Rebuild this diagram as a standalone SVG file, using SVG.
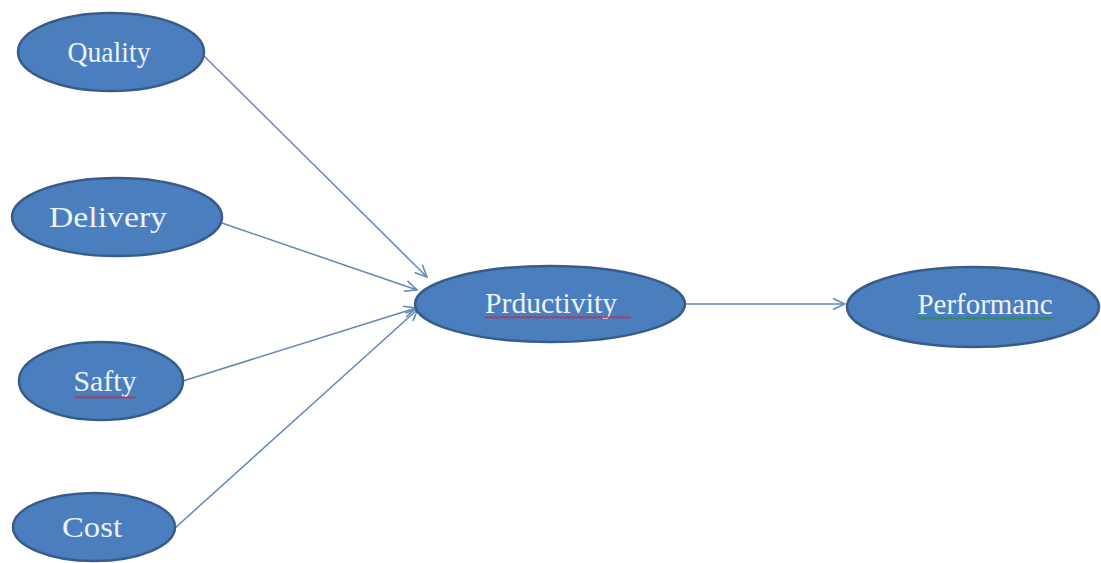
<svg xmlns="http://www.w3.org/2000/svg" width="1101" height="563" viewBox="0 0 1101 563">
<style>
.node ellipse { fill: #4a7ebe; stroke: #385c8a; stroke-width: 2.5; }
.node text { font-family: "Liberation Serif", "Times New Roman", serif; font-size: 29px; fill: #eef3fa; text-anchor: middle; }
.conn line { stroke: #5f87b9; stroke-width: 1.5; fill: none; marker-end: url(#arr); }
.sq { fill: none; stroke-width: 1.3; }
</style>
<defs>
<marker id="arr" viewBox="0 0 14 14" refX="13" refY="7" markerWidth="14" markerHeight="14" markerUnits="userSpaceOnUse" orient="auto">
<path d="M1,1.5 L13,7 L1,12.5" fill="none" stroke="#5f87b9" stroke-width="1.5"/>
</marker>
</defs>
<rect width="1101" height="563" fill="#ffffff"/>
<g id="connectors" class="conn">
<line x1="204" y1="56" x2="427" y2="277"/>
<line x1="222" y1="223" x2="417" y2="290"/>
<line x1="183" y1="381" x2="416" y2="308"/>
<line x1="175" y1="528" x2="418" y2="309"/>
<line x1="685" y1="304" x2="845" y2="304"/>
</g>
<g id="quality" class="node">
<ellipse cx="111" cy="52" rx="93" ry="39"/>
<text x="109" y="62" textLength="83" lengthAdjust="spacingAndGlyphs">Quality</text>
</g>
<g id="delivery" class="node">
<ellipse cx="117" cy="217" rx="105" ry="39"/>
<text x="108" y="227" textLength="118" lengthAdjust="spacingAndGlyphs">Delivery</text>
</g>
<g id="safty" class="node">
<ellipse cx="101" cy="381" rx="82" ry="39"/>
<text x="105" y="391" textLength="63" lengthAdjust="spacingAndGlyphs">Safty</text>
<path class="sq" stroke="#c0304a" d="M74,398 l2,-1.5 l2,1.5 l2,-1.5 l2,1.5 l2,-1.5 l2,1.5 l2,-1.5 l2,1.5 l2,-1.5 l2,1.5 l2,-1.5 l2,1.5 l2,-1.5 l2,1.5 l2,-1.5 l2,1.5 l2,-1.5 l2,1.5 l2,-1.5 l2,1.5 l2,-1.5 l2,1.5 l2,-1.5 l2,1.5 l2,-1.5 l2,1.5 l2,-1.5 l2,1.5 l2,-1.5 l2,1.5 l2,-1.5"/>
</g>
<g id="cost" class="node">
<ellipse cx="94" cy="527" rx="81" ry="34"/>
<text x="92" y="537" textLength="60" lengthAdjust="spacingAndGlyphs">Cost</text>
</g>
<g id="productivity" class="node">
<ellipse cx="550" cy="304" rx="135" ry="38"/>
<text x="551" y="313" textLength="132" lengthAdjust="spacingAndGlyphs">Prductivity</text>
<path class="sq" stroke="#c0304a" d="M485,318 l2,-1.5 l2,1.5 l2,-1.5 l2,1.5 l2,-1.5 l2,1.5 l2,-1.5 l2,1.5 l2,-1.5 l2,1.5 l2,-1.5 l2,1.5 l2,-1.5 l2,1.5 l2,-1.5 l2,1.5 l2,-1.5 l2,1.5 l2,-1.5 l2,1.5 l2,-1.5 l2,1.5 l2,-1.5 l2,1.5 l2,-1.5 l2,1.5 l2,-1.5 l2,1.5 l2,-1.5 l2,1.5 l2,-1.5 l2,1.5 l2,-1.5 l2,1.5 l2,-1.5 l2,1.5 l2,-1.5 l2,1.5 l2,-1.5 l2,1.5 l2,-1.5 l2,1.5 l2,-1.5 l2,1.5 l2,-1.5 l2,1.5 l2,-1.5 l2,1.5 l2,-1.5 l2,1.5 l2,-1.5 l2,1.5 l2,-1.5 l2,1.5 l2,-1.5 l2,1.5 l2,-1.5 l2,1.5 l2,-1.5 l2,1.5 l2,-1.5 l2,1.5 l2,-1.5 l2,1.5 l2,-1.5 l2,1.5 l2,-1.5 l2,1.5 l2,-1.5 l2,1.5 l2,-1.5 l2,1.5 l2,-1.5"/>
</g>
<g id="performance" class="node">
<ellipse cx="973" cy="307" rx="126" ry="40"/>
<text x="985" y="314" textLength="135" lengthAdjust="spacingAndGlyphs">Performanc</text>
<path class="sq" stroke="#2e8a4a" d="M917,319 l2,-1.5 l2,1.5 l2,-1.5 l2,1.5 l2,-1.5 l2,1.5 l2,-1.5 l2,1.5 l2,-1.5 l2,1.5 l2,-1.5 l2,1.5 l2,-1.5 l2,1.5 l2,-1.5 l2,1.5 l2,-1.5 l2,1.5 l2,-1.5 l2,1.5 l2,-1.5 l2,1.5 l2,-1.5 l2,1.5 l2,-1.5 l2,1.5 l2,-1.5 l2,1.5 l2,-1.5 l2,1.5 l2,-1.5 l2,1.5 l2,-1.5 l2,1.5 l2,-1.5 l2,1.5 l2,-1.5 l2,1.5 l2,-1.5 l2,1.5 l2,-1.5 l2,1.5 l2,-1.5 l2,1.5 l2,-1.5 l2,1.5 l2,-1.5 l2,1.5 l2,-1.5 l2,1.5 l2,-1.5 l2,1.5 l2,-1.5 l2,1.5 l2,-1.5 l2,1.5 l2,-1.5 l2,1.5 l2,-1.5 l2,1.5 l2,-1.5 l2,1.5 l2,-1.5 l2,1.5 l2,-1.5 l2,1.5 l2,-1.5 l2,1.5"/>
</g>
</svg>
